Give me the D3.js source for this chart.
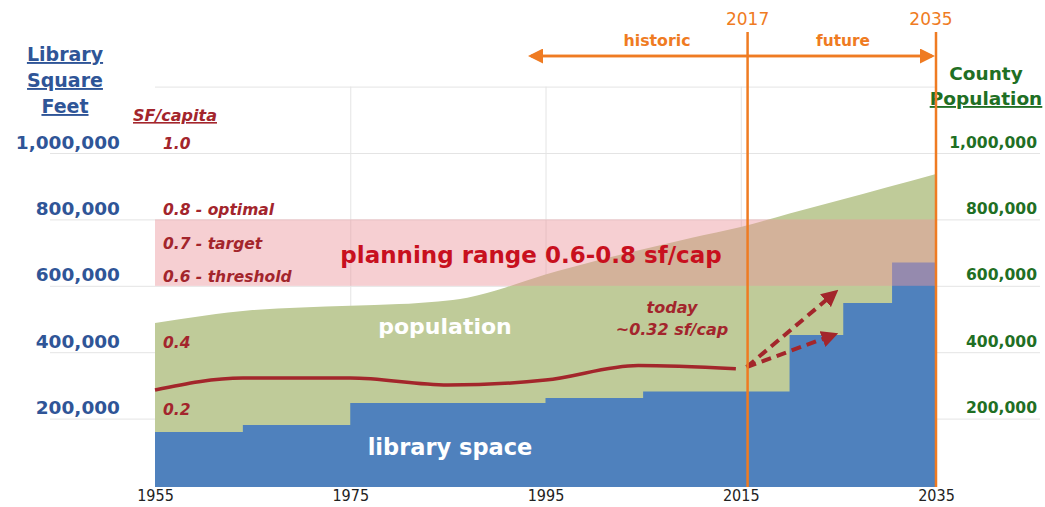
<!DOCTYPE html>
<html>
<head>
<meta charset="utf-8">
<script src="https://cdn.jsdelivr.net/npm/d3@7"></script>
<style>
  body { margin: 0; background: #fff; }
  text { font-family: "DejaVu Sans", sans-serif; }
</style>
</head>
<body>
<div id="vis-1"></div>
<script>
// datos
const popYears = [1955, 1960, 1965, 1970, 1975, 1980, 1984, 1987, 1989, 1991, 1995, 2000, 2005, 2010, 2015, 2020, 2025, 2030, 2035];
const popValues = [488000, 510000, 527000, 535000, 540000, 545000, 553000, 564000, 578000, 596000, 634000, 674000, 710000, 745000, 777000, 818000, 857000, 897000, 937000];

const libYears = [1955, 1964, 1975, 1995, 2005, 2020, 2025.5, 2030.5, 2035];
const libValues = [160000, 181000, 247000, 262000, 282000, 452000, 548000, 670000, 670000];

const sfYears = [1955, 1964, 1975, 1985, 1995, 2004.5, 2014.5];
const sfValues = [0.286, 0.322, 0.322, 0.301, 0.316, 0.36, 0.35];

const arrowStart = [2015.6, 0.355];
const arrowEnds = [[2024.6, 0.578], [2024.5, 0.452]];

const planningRange = [0.6, 0.8];
const sfLabels = [
  { v: 1.0, t: "1.0" },
  { v: 0.8, t: "0.8 - optimal" },
  { v: 0.7, t: "0.7 - target" },
  { v: 0.6, t: "0.6 - threshold" },
  { v: 0.4, t: "0.4" },
  { v: 0.2, t: "0.2" },
];
const yTicks = [200000, 400000, 600000, 800000, 1000000];
const xTicks = [1955, 1975, 1995, 2015, 2035];
const gridYears = [1975, 1995, 2015];
const eraMarks = [{ label: "2017", year: 2015.7 }, { label: "2035", year: 2035 }];

const SVG1 = d3.select("#vis-1").append("svg");

const WIDTH1 = 1045;
const HEIGHT1 = 507;
const margin = {
  top: 153,
  bottom: 22,
  left: 155,
  right: 109,
};
const HEIGHTVIS1 = HEIGHT1 - margin.top - margin.bottom;
const WIDTHVIS1 = WIDTH1 - margin.right - margin.left;

SVG1.attr("width", WIDTH1).attr("height", HEIGHT1);

const BLUE_TXT = "#2f5597";
const RED_TXT = "#a3252c";
const ORANGE = "#ef7b22";
const GREEN_TXT = "#1f6f24";

const escalaX = d3.scaleLinear().domain([1955, 2035]).range([margin.left, margin.left + WIDTHVIS1]);
const escalaY = d3.scaleLinear().domain([0, 1000000]).range([margin.top + HEIGHTVIS1, margin.top]);

// rejilla
const grid = SVG1.append("g").attr("stroke", "#e4e4e4").attr("stroke-width", 1);
grid.selectAll("line.h")
  .data(yTicks)
  .join("line")
  .attr("x1", 50)
  .attr("x2", 1040)
  .attr("y1", (d) => escalaY(d) + 0.5)
  .attr("y2", (d) => escalaY(d) + 0.5);
grid.append("line")
  .attr("x1", escalaX(1955)).attr("x2", escalaX(2035))
  .attr("y1", escalaY(1200000) + 0.5).attr("y2", escalaY(1200000) + 0.5);
grid.selectAll("line.v")
  .data(gridYears)
  .join("line")
  .attr("x1", (d) => escalaX(d) + 0.5)
  .attr("x2", (d) => escalaX(d) + 0.5)
  .attr("y1", escalaY(1200000))
  .attr("y2", escalaY(0));

// poblacion
const popData = popYears.map((y, i) => ({ year: y, value: popValues[i] }));
SVG1.append("path")
  .datum(popData)
  .attr("fill", "#bfcb99")
  .attr("d", d3.area()
    .x((d) => escalaX(d.year))
    .y0(escalaY(0))
    .y1((d) => escalaY(d.value))
    .curve(d3.curveMonotoneX));

// superficie de biblioteca
const libData = libYears.map((y, i) => ({ year: y, value: libValues[i] }));
SVG1.append("path")
  .datum(libData)
  .attr("fill", "#4f81bd")
  .attr("d", d3.area()
    .x((d) => escalaX(d.year))
    .y0(escalaY(0) + 2)
    .y1((d) => escalaY(d.value))
    .curve(d3.curveStepAfter));

// rango de planificacion
SVG1.append("rect")
  .attr("x", escalaX(1955))
  .attr("width", escalaX(2035) - escalaX(1955))
  .attr("y", escalaY(planningRange[1] * 1e6))
  .attr("height", escalaY(planningRange[0] * 1e6) - escalaY(planningRange[1] * 1e6))
  .attr("fill", "#ea949b")
  .attr("opacity", 0.45);

// linea sf/capita
const sfData = sfYears.map((y, i) => ({ year: y, value: sfValues[i] }));
SVG1.append("path")
  .datum(sfData)
  .attr("fill", "none")
  .attr("stroke", "#a3262b")
  .attr("stroke-width", 3.5)
  .attr("d", d3.line()
    .x((d) => escalaX(d.year))
    .y((d) => escalaY(d.value * 1e6))
    .curve(d3.curveMonotoneX));

// flechas
const defs = SVG1.append("defs");
defs.append("marker")
  .attr("id", "punta")
  .attr("viewBox", "0 0 10 10")
  .attr("refX", 7)
  .attr("refY", 5)
  .attr("markerWidth", 4.2)
  .attr("markerHeight", 4.2)
  .attr("orient", "auto")
  .append("path")
  .attr("d", "M0,0 L10,5 L0,10 Z")
  .attr("fill", "#a3262b");
defs.append("marker")
  .attr("id", "punta-o")
  .attr("viewBox", "0 0 10 10")
  .attr("refX", 8)
  .attr("refY", 5)
  .attr("markerWidth", 6)
  .attr("markerHeight", 6)
  .attr("orient", "auto")
  .append("path")
  .attr("d", "M0,0 L10,5 L0,10 Z")
  .attr("fill", ORANGE);

SVG1.selectAll("line.flecha")
  .data(arrowEnds)
  .join("line")
  .attr("class", "flecha")
  .attr("x1", escalaX(arrowStart[0]))
  .attr("y1", escalaY(arrowStart[1] * 1e6))
  .attr("x2", (d) => escalaX(d[0]))
  .attr("y2", (d) => escalaY(d[1] * 1e6))
  .attr("stroke", "#a3262b")
  .attr("stroke-width", 4)
  .attr("stroke-dasharray", "10 6")
  .attr("marker-end", "url(#punta)");

// ejes
const ejeY = d3.axisLeft(escalaY).tickValues(yTicks).tickFormat(d3.format(",")).tickSize(0).tickPadding(35);
const gY = SVG1.append("g")
  .attr("transform", `translate(${margin.left}, 0)`)
  .call(ejeY);
gY.select(".domain").remove();
gY.selectAll("text")
  .attr("dy", -5)
  .attr("fill", BLUE_TXT)
  .style("font-size", "18.5px")
  .style("font-weight", "bold")
  .style("font-family", "DejaVu Sans");

const ejeY2 = d3.axisRight(escalaY).tickValues(yTicks).tickFormat(d3.format(",")).tickSize(0).tickPadding(0);
const gY2 = SVG1.append("g")
  .attr("transform", "translate(1037, 0)")
  .call(ejeY2);
gY2.select(".domain").remove();
gY2.selectAll("text")
  .attr("dy", -6)
  .attr("text-anchor", "end")
  .attr("fill", GREEN_TXT)
  .style("font-size", "15.6px")
  .style("font-weight", "bold")
  .style("font-family", "DejaVu Sans");

const ejeX = d3.axisBottom(escalaX).tickValues(xTicks).tickFormat(d3.format("d")).tickSize(0).tickPadding(5);
const gX = SVG1.append("g")
  .attr("transform", `translate(0, ${escalaY(0)})`)
  .call(ejeX);
gX.select(".domain").remove();
gX.selectAll("text")
  .attr("fill", "#222")
  .style("font-size", "16px")
  .style("font-family", "DejaVu Sans Condensed, DejaVu Sans");

// etiquetas sf/capita
SVG1.selectAll("text.sf")
  .data(sfLabels)
  .join("text")
  .attr("class", "sf")
  .attr("x", 163)
  .attr("y", (d) => escalaY(d.v * 1e6) - 4)
  .attr("fill", RED_TXT)
  .style("font-size", "15.5px")
  .style("font-weight", "bold")
  .style("font-style", "italic")
  .text((d) => d.t);

// titulos
const titulo = SVG1.append("g").attr("fill", BLUE_TXT)
  .style("font-size", "19px").style("font-weight", "bold");
["Library", "Square", "Feet"].forEach((t, i) => {
  titulo.append("text")
    .attr("x", 65)
    .attr("y", 61 + i * 26)
    .attr("text-anchor", "middle")
    .style("text-decoration", "underline")
    .text(t);
});

SVG1.append("text")
  .attr("x", 175)
  .attr("y", 121)
  .attr("text-anchor", "middle")
  .attr("fill", RED_TXT)
  .style("font-size", "16px")
  .style("font-weight", "bold")
  .style("font-style", "italic")
  .style("text-decoration", "underline")
  .text("SF/capita");

SVG1.append("text")
  .attr("x", 986)
  .attr("y", 80)
  .attr("text-anchor", "middle")
  .attr("fill", GREEN_TXT)
  .style("font-size", "18.5px")
  .style("font-weight", "bold")
  .text("County");
SVG1.append("text")
  .attr("x", 986)
  .attr("y", 105)
  .attr("text-anchor", "middle")
  .attr("fill", GREEN_TXT)
  .style("font-size", "18.5px")
  .style("font-weight", "bold")
  .style("text-decoration", "underline")
  .text("Population");

SVG1.append("text")
  .attr("x", 531)
  .attr("y", 263)
  .attr("text-anchor", "middle")
  .attr("fill", "#c8101e")
  .style("font-size", "23px")
  .style("font-weight", "bold")
  .text("planning range 0.6-0.8 sf/cap");

SVG1.append("text")
  .attr("x", 445)
  .attr("y", 334)
  .attr("text-anchor", "middle")
  .attr("fill", "#fff")
  .style("font-size", "22px")
  .style("font-weight", "bold")
  .text("population");

SVG1.append("text")
  .attr("x", 450)
  .attr("y", 455)
  .attr("text-anchor", "middle")
  .attr("fill", "#fff")
  .style("font-size", "22.5px")
  .style("font-weight", "bold")
  .text("library space");

["today", "~0.32 sf/cap"].forEach((t, i) => {
  SVG1.append("text")
    .attr("x", 672)
    .attr("y", 313 + i * 22)
    .attr("text-anchor", "middle")
    .attr("fill", RED_TXT)
    .style("font-size", "16px")
    .style("font-weight", "bold")
    .style("font-style", "italic")
    .text(t);
});

// lineas de tiempo
SVG1.selectAll("line.era")
  .data(eraMarks)
  .join("line")
  .attr("class", "era")
  .attr("x1", (d) => escalaX(d.year))
  .attr("x2", (d) => escalaX(d.year))
  .attr("y1", 32)
  .attr("y2", escalaY(0) + 2)
  .attr("stroke", ORANGE)
  .attr("stroke-width", 2.5);
SVG1.selectAll("text.era")
  .data(eraMarks)
  .join("text")
  .attr("class", "era")
  .attr("x", (d, i) => escalaX(d.year) - (i ? 5 : 0))
  .attr("y", 25)
  .attr("text-anchor", "middle")
  .attr("fill", ORANGE)
  .style("font-size", "17px")
  .text((d) => d.label);

SVG1.append("line")
  .attr("x1", escalaX(2035) - 4)
  .attr("x2", 531)
  .attr("y1", 56)
  .attr("y2", 56)
  .attr("stroke", ORANGE)
  .attr("stroke-width", 2.5)
  .attr("marker-end", "url(#punta-o)");
SVG1.append("line")
  .attr("x1", 531)
  .attr("x2", escalaX(2035) - 4)
  .attr("y1", 56)
  .attr("y2", 56)
  .attr("stroke", ORANGE)
  .attr("stroke-width", 2.5)
  .attr("marker-end", "url(#punta-o)");

SVG1.append("text")
  .attr("x", 657).attr("y", 46)
  .attr("text-anchor", "middle")
  .attr("fill", ORANGE)
  .style("font-size", "15.8px").style("font-weight", "bold")
  .text("historic");
SVG1.append("text")
  .attr("x", 843).attr("y", 46)
  .attr("text-anchor", "middle")
  .attr("fill", ORANGE)
  .style("font-size", "15.4px").style("font-weight", "bold")
  .text("future");
</script>
</body>
</html>
